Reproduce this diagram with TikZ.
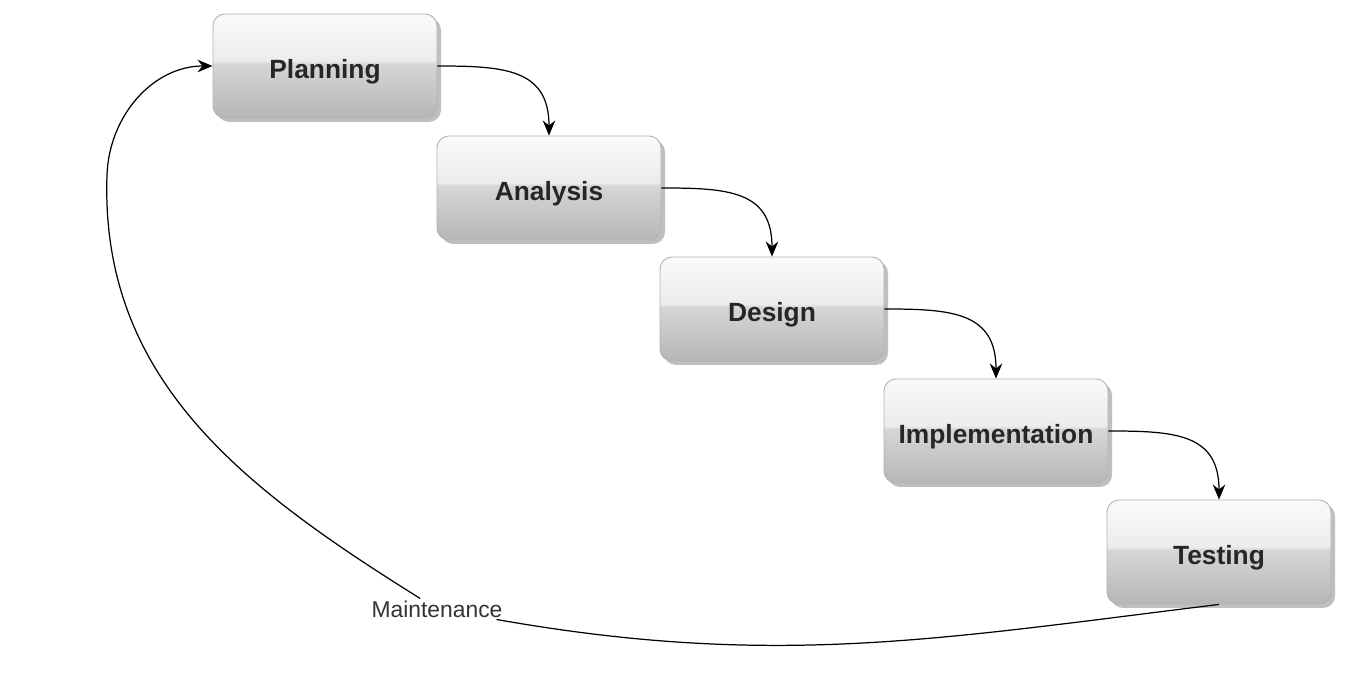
\documentclass[tikz,border=0pt]{standalone}
\usepackage{fontspec}
\setmainfont{Liberation Sans}
\usetikzlibrary{arrows.meta}
\usetikzlibrary{shadows}
\definecolor{boxlow}{HTML}{B6B6B6}
\definecolor{boxmid}{HTML}{D6D6D6}
\definecolor{boxhigh}{HTML}{ECECEC}
\definecolor{boxtop}{HTML}{FAFAFA}
\pgfdeclareverticalshading{glossy}{100bp}{color(0bp)=(boxlow); color(25bp)=(boxlow); color(51bp)=(boxmid); color(52.5bp)=(boxhigh); color(75bp)=(boxtop); color(100bp)=(boxtop)}

\begin{document}
\begin{tikzpicture}[
  phase/.style={draw=gray!60, line width=0.5pt, rounded corners=0.24cm,
    minimum width=4.48cm, minimum height=2.08cm, shading=glossy,
    drop shadow={shadow xshift=0.08cm, shadow yshift=-0.08cm, fill=black, opacity=0.25},
    text height=0.52cm, text depth=0cm,
    font=\bfseries\fontsize{15}{18}\selectfont, text=black!85},
  flow/.style={-{Stealth[length=0.3cm, width=0.25cm]}, line width=0.7pt}]
\useasboundingbox (0,0) rectangle (27.1,13.6);
\node[phase] (P) at (6.5,12.28) {Planning};
\node[phase] (A) at (10.98,9.84) {Analysis};
\node[phase] (D) at (15.44,7.42) {Design};
\node[phase] (I) at (19.92,4.98) {Implementation};
\node[phase] (T) at (24.38,2.56) {Testing};
\node[text=black!80, font=\fontsize{13}{15}\selectfont, inner sep=1pt] (M) at (8.74,1.42) {Maintenance};
\coordinate (L) at (2.14,10.1);
\draw [flow] (P) edge[out=0, in=90, looseness=1.3] (A.north);
\draw [flow] (A) edge[out=0, in=90, looseness=1.3] (D.north);
\draw [flow] (D) edge[out=0, in=90, looseness=1.3] (I.north);
\draw [flow] (I) edge[out=0, in=90, looseness=1.3] (T.north);
\draw [line width=0.7pt] (T.south) to[out=187, in=-10] (M);
\draw [flow] (M) to[out=148, in=-92] (L) to[out=88, in=180] (P.west);
\end{tikzpicture}
\end{document}
